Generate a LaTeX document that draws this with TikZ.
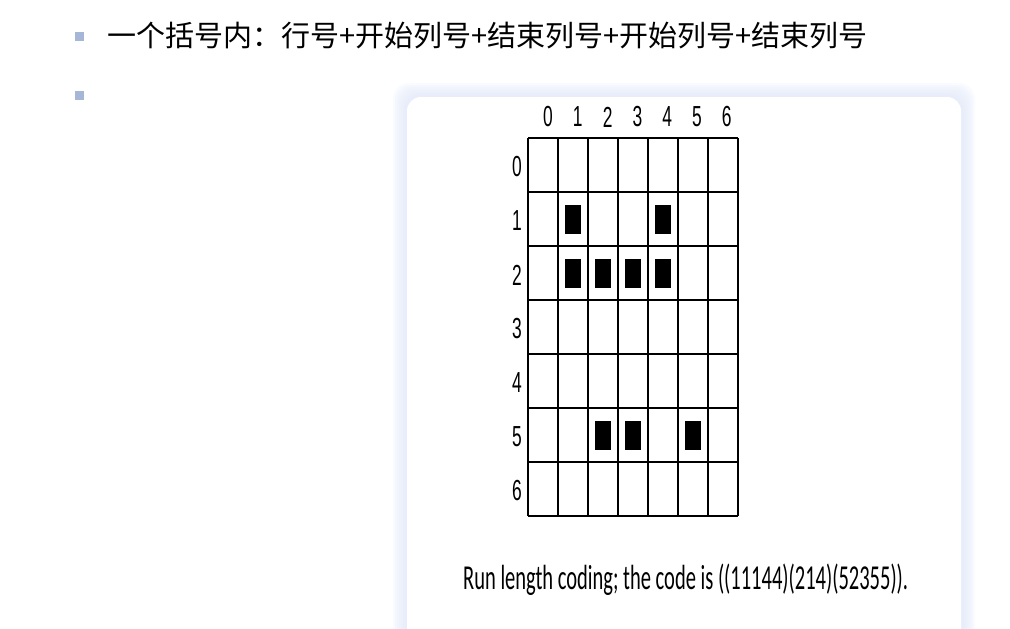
\documentclass[tikz,border=0pt]{standalone}
\usepackage{fontspec}
\usepackage{graphicx}
\setmainfont{Liberation Sans}
\newfontfamily\cjkfont{Noto Sans CJK SC}
\newfontfamily\capfont{Carlito}
\definecolor{rlBullet}{RGB}{166,182,214}
\definecolor{rlGlow}{RGB}{226,233,250}
\usetikzlibrary{positioning}
\newcommand{\squash}[1]{\scalebox{0.6}[1]{#1}}
\tikzset{
  bulletsq/.style={fill=rlBullet, minimum size=9pt, inner sep=0pt},
  pixcell/.style={fill=black, minimum width=16pt, minimum height=29pt, inner sep=0pt},
  axislabel/.style={inner sep=0pt, font=\fontsize{29}{29}\selectfont},
  gridline/.style={line width=1.8pt, black},
}

\begin{document}
\begin{tikzpicture}[x=1pt,y=-1pt]
    \useasboundingbox (0,0) rectangle (1010,629);
    \clip (0,0) rectangle (1010,629);
    \fill[white] (0,0) rectangle (1010,629);

    % Bullets and heading
    \node[bulletsq] (b1) at (79.5,36.5) {};
    \node[bulletsq] (b2) at (79.5,95.5) {};
    \node[anchor=west, inner sep=0pt, font=\cjkfont\fontsize{29}{29}\selectfont] (title) at (107,36) {一个括号内：行号+开始列号+结束列号+开始列号+结束列号};

    % Card with soft glow
    \foreach \g in {14,12,...,2}
        \fill[rlGlow, opacity=0.18, rounded corners=16pt] (407-\g,97-\g) rectangle (961+\g,680);
    \fill[white, rounded corners=14pt] (407,97) rectangle (961,680);

    % Grid
    \foreach \k in {0,...,7} {
        \draw[gridline] (528+30*\k,138) -- (528+30*\k,516);
        \draw[gridline] (528,138+54*\k) -- (738,138+54*\k);
    }

    % Row and column numbers
    \foreach \k in {0,...,6} {
        \node[axislabel] (col\k) at (548+29.8*\k,117) {\squash{\k}};
        \node[axislabel] (row\k) at (517,167+54*\k) {\squash{\k}};
    }

    % Filled pixels
    \foreach \r/\c in {1/1,1/4,2/1,2/2,2/3,2/4,5/2,5/3,5/5}
        \node[pixcell] (px\r\c) at (543+30*\c,165+54*\r) {};

    \node[anchor=base west, inner sep=0pt, font=\capfont\fontsize{35}{35}\selectfont] (caption) at (463,589) {\resizebox{445pt}{\height}{Run length coding; the code is ((11144)(214)(52355)).}};
\end{tikzpicture}
\end{document}
